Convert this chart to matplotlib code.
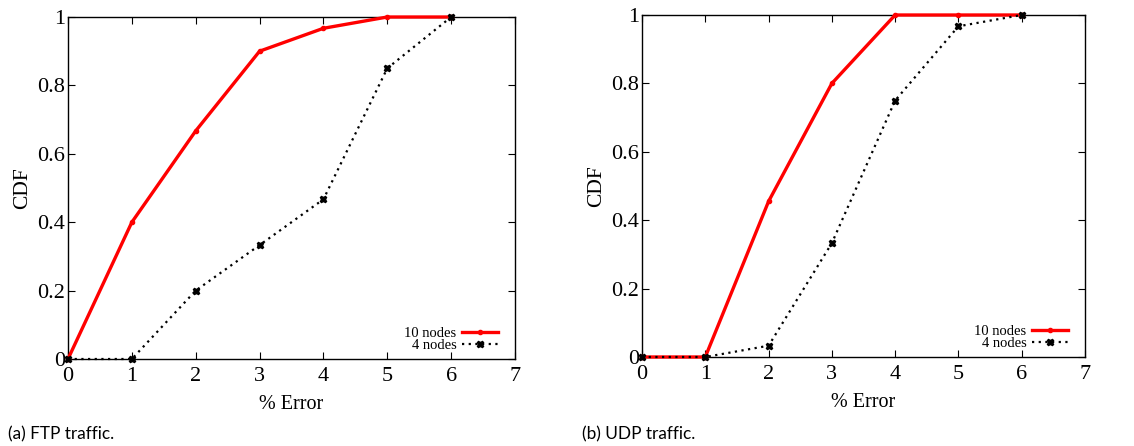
import matplotlib
matplotlib.use('Agg')
import matplotlib.pyplot as plt

# Data
error_pct = [0, 1, 2, 3, 4, 5, 6]
ftp_10 = [0.0, 0.4, 0.667, 0.9, 0.967, 1.0, 1.0]
ftp_4 = [0.0, 0.0, 0.2, 0.333, 0.467, 0.85, 1.0]
udp_10 = [0.0, 0.0, 0.455, 0.8, 1.0, 1.0, 1.0]
udp_4 = [0.0, 0.0, 0.033, 0.333, 0.75, 0.967, 1.0]
x_ticks = [0, 1, 2, 3, 4, 5, 6, 7]
y_ticks = [0, 0.2, 0.4, 0.6, 0.8, 1]
y_ticklabels = ['0', '0.2', '0.4', '0.6', '0.8', '1']
captions = ['(a) FTP traffic.', '(b) UDP traffic.']

serif = 'Liberation Serif'

fig = plt.figure(figsize=(11.34, 4.46), dpi=100)
W, H = 1134, 446
boxes = [(68, 17, 515, 359), (642, 15, 1085, 357)]
panels = [(ftp_10, ftp_4), (udp_10, udp_4)]

for (l, t, r, b), (s10, s4), cap in zip(boxes, panels, captions):
    ax = fig.add_axes([l / W, 1 - b / H, (r - l) / W, (b - t) / H])
    ax.plot(error_pct, s10, color='#ff0000', lw=2.4, marker='o', ms=3,
            label='10 nodes', clip_on=False, zorder=3)
    ax.plot(error_pct, s4, color='black', lw=1.6, ls=(0, (1, 2)), marker='X',
            ms=5, label='4 nodes', clip_on=False, zorder=4)
    ax.set_xlim(0, 7)
    ax.set_ylim(0, 1)
    ax.set_xticks(x_ticks)
    ax.set_yticks(y_ticks)
    ax.set_yticklabels(y_ticklabels)
    ax.tick_params(direction='in', top=True, right=True, length=5, width=0.8,
                   labelsize=16, pad=6)
    ax.tick_params(axis='y', pad=2)
    for lab in ax.get_xticklabels() + ax.get_yticklabels():
        lab.set_fontfamily(serif)
    for sp in ax.spines.values():
        sp.set_linewidth(1.0)
    ax.set_xlabel('% Error', fontsize=14.5, family=serif, labelpad=6)
    ax.set_ylabel('CDF', fontsize=15.5, family=serif, labelpad=4)
    ax.legend(loc='lower right', bbox_to_anchor=(1 - 17 / (r - l), 7 / (b - t)),
              frameon=False, markerfirst=False, handlelength=2.5,
              handletextpad=0.35, labelspacing=-0.1, borderpad=0,
              borderaxespad=0, prop={'family': serif, 'size': 10.5})
    fig.text((l - 60) / W, 1 - 434 / H, cap, fontsize=12.4, family='Lato',
             va='center', ha='left')

plt.savefig('out.png', dpi=100)
